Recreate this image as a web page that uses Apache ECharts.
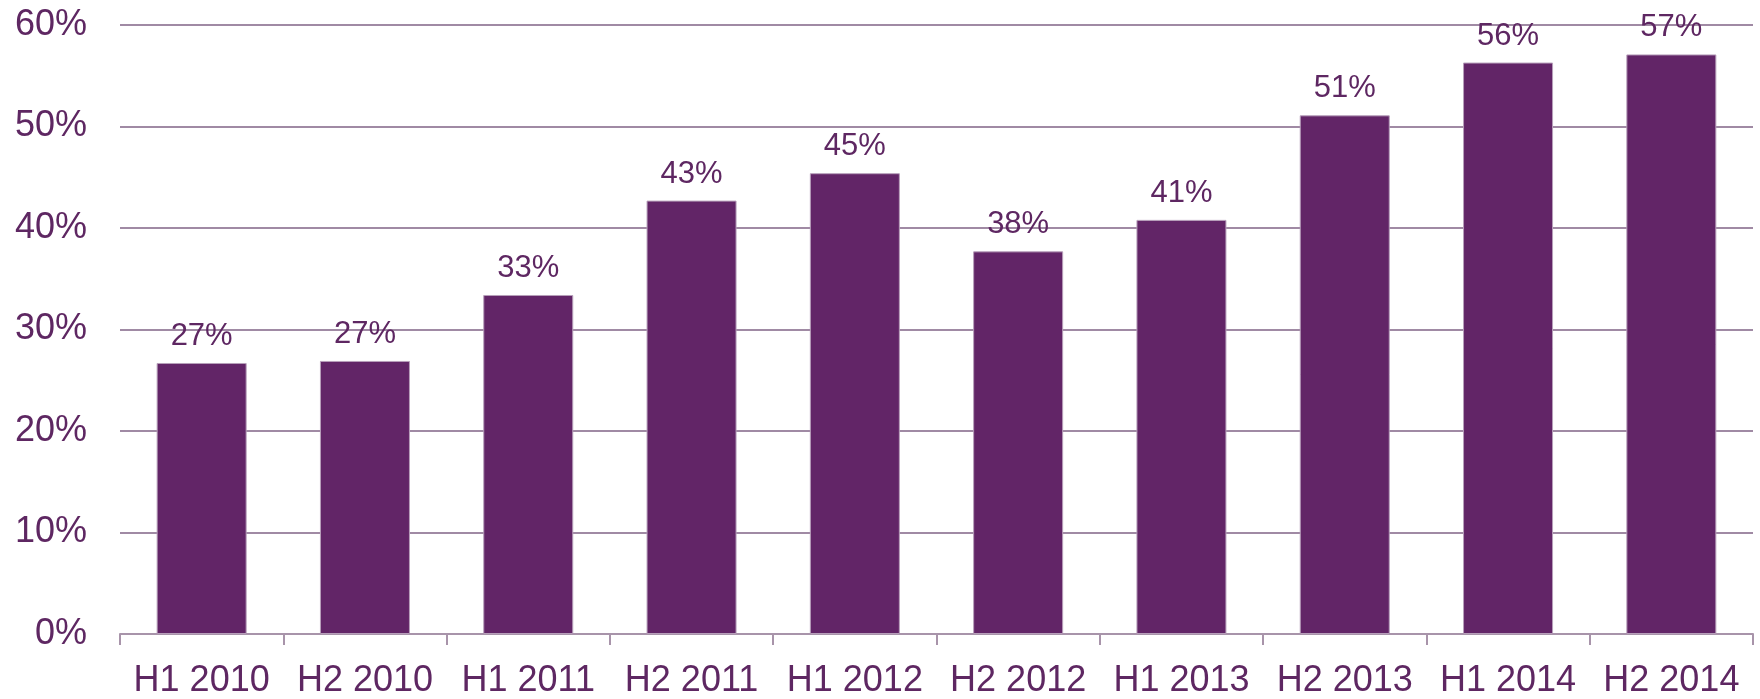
<!DOCTYPE html>
<html>
<head>
<meta charset="utf-8">
<script src="https://cdn.jsdelivr.net/npm/echarts@6/dist/echarts.min.js"></script>
<style>
html,body{margin:0;padding:0;background:#fff;}
#chart{width:1760px;height:699px;}
</style>
</head>
<body>
<div id="chart"></div>
<script>
const categories = ['H1 2010','H2 2010','H1 2011','H2 2011','H1 2012','H2 2012','H1 2013','H2 2013','H1 2014','H2 2014'];
const shareValues = [26.7, 26.9, 33.4, 42.7, 45.4, 37.7, 40.8, 51.1, 56.3, 57.1];
const yTicks = { min: 0, max: 60, interval: 10 };

const textColor = '#5e2762';
const chart = echarts.init(document.getElementById('chart'));
chart.setOption({
  animation: false,
  backgroundColor: '#ffffff',
  grid: { left: 120, right: 7, top: 25, bottom: 61, containLabel: false },
  xAxis: {
    type: 'category',
    data: categories,
    axisLine: { show: true, lineStyle: { color: '#a894aa', width: 2 } },
    axisTick: { show: true, length: 11, lineStyle: { color: '#a894aa', width: 2 } },
    axisLabel: { interval: 0, color: textColor, fontSize: 36, fontFamily: 'Liberation Sans, Arial, sans-serif', margin: 29 }
  },
  yAxis: {
    type: 'value',
    min: yTicks.min, max: yTicks.max, interval: yTicks.interval,
    axisLine: { show: false },
    axisTick: { show: false },
    splitLine: { lineStyle: { color: '#a08aa4', width: 2 } },
    axisLabel: { color: textColor, fontSize: 36, fontFamily: 'Liberation Sans, Arial, sans-serif', margin: 33, formatter: '{value}%' }
  },
  series: [{
    type: 'bar',
    data: shareValues,
    barWidth: 90,
    itemStyle: { color: '#622567', borderColor: '#b79fba', borderWidth: 1 },
    label: {
      show: true, position: 'top', distance: 11,
      color: textColor, fontSize: 31, fontFamily: 'Liberation Sans, Arial, sans-serif',
      formatter: p => Math.round(p.value) + '%'
    }
  }]
});
</script>
</body>
</html>
